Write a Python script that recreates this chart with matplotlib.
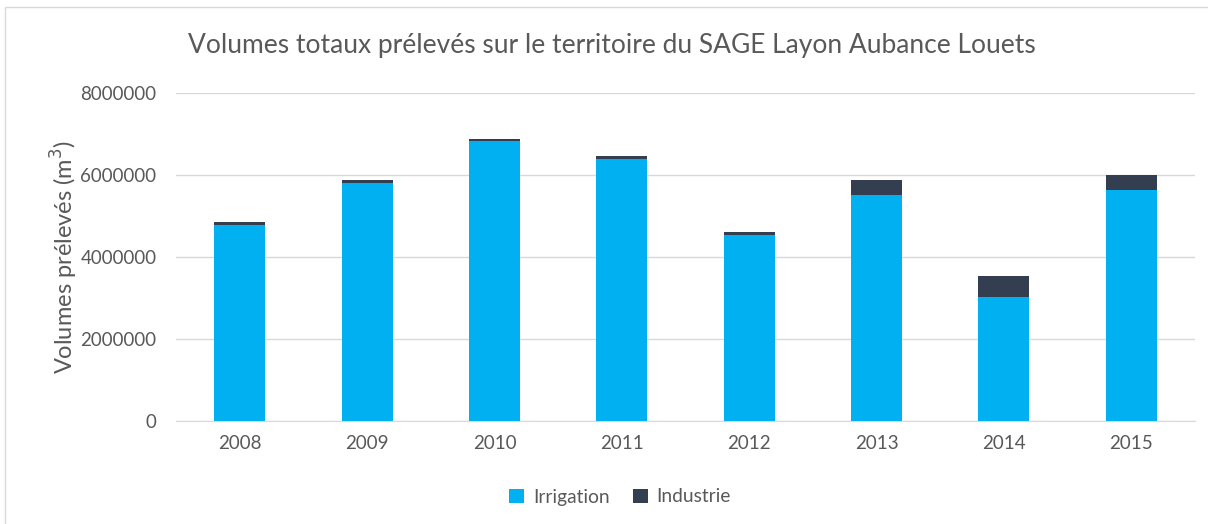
import matplotlib.pyplot as plt
import numpy as np
from matplotlib.patches import Rectangle

years = ["2008", "2009", "2010", "2011", "2012", "2013", "2014", "2015"]
irrigation = [4780000, 5815000, 6840000, 6390000, 4535000, 5500000, 3015000, 5640000]
industrie = [75000, 75000, 40000, 80000, 75000, 380000, 520000, 355000]

color_irr = "#00B0F0"
color_ind = "#333F50"
text_col = "#595959"

plt.rcParams["font.family"] = ["Lato", "DejaVu Sans"]

fig = plt.figure(figsize=(12.08, 5.24), dpi=100)
ax = fig.add_axes([176 / 1208, 1 - 421 / 524, (1195 - 176) / 1208, (421 - 93) / 524])

x = np.arange(len(years))
ax.bar(x, irrigation, width=0.4, color=color_irr, label="Irrigation", zorder=3)
ax.bar(x, industrie, width=0.4, bottom=irrigation, color=color_ind, label="Industrie", zorder=3)

ax.set_xlim(-0.5, len(years) - 0.5)
ax.set_ylim(0, 8000000)
ax.set_yticks(range(0, 8000001, 2000000))
ax.set_yticklabels([str(v) for v in range(0, 8000001, 2000000)])
ax.set_xticks(x)
ax.set_xticklabels(years)
ax.grid(axis="y", color="#D9D9D9", linewidth=1, zorder=0)
ax.tick_params(axis="both", length=0, labelsize=13.5, colors=text_col, pad=14)
ax.tick_params(axis="x", pad=10)
for s in ["top", "right", "left"]:
    ax.spines[s].set_visible(False)
ax.spines["bottom"].set_color("#D9D9D9")

ax.set_ylabel("Volumes prélevés (m$^3$)", fontsize=17, color=text_col, labelpad=0)

fig.text(0.5 + 8 / 1208, 1 - 45 / 524, "Volumes totaux prélevés sur le territoire du SAGE Layon Aubance Louets",
         ha="center", va="center", fontsize=19, color=text_col)

fig.legend(loc="center", bbox_to_anchor=(620 / 1208, 1 - 497 / 524), ncol=2, frameon=False,
           fontsize=13.8, labelcolor=text_col, handlelength=0.8, handleheight=0.8,
           columnspacing=1.2, handletextpad=0.45)

fig.patches.append(Rectangle((5 / 1208, -0.1), 1.2, 1 - 7 / 524 + 0.1, transform=fig.transFigure,
                             fill=False, edgecolor="#D9D9D9", linewidth=1))

fig.savefig("out.png", dpi=100)
